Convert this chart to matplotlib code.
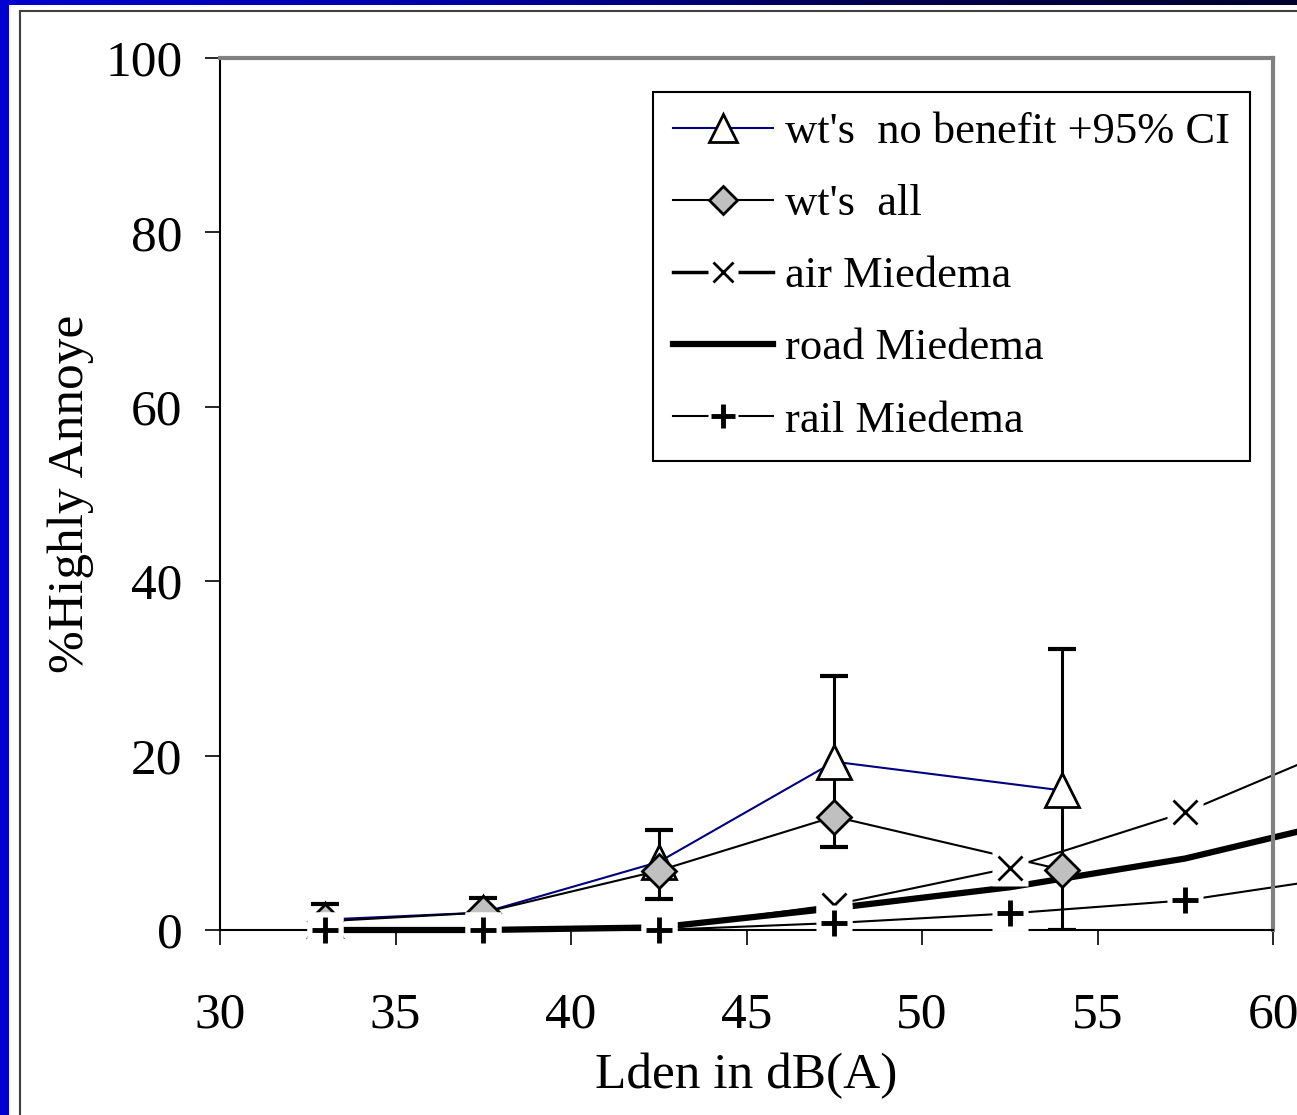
import matplotlib
matplotlib.use("Agg")
import matplotlib.pyplot as plt
import numpy as np
from matplotlib.lines import Line2D
from matplotlib.patches import Rectangle
from matplotlib.legend_handler import HandlerTuple

plt.rcParams["font.family"] = ["Liberation Serif", "DejaVu Serif"]

# wind turbine survey points
x_wt = [33, 37.5, 42.5, 47.5, 54]
no_benefit = [1.2, 2.0, 7.8, 19.3, 16.0]
ci_upper = [3.0, 3.7, 11.5, 29.1, 32.2]
ci_lower = [0.0, 0.0, 3.6, 9.5, 0.0]
wt_all = [1.0, 2.0, 6.8, 13.0, 6.9]

# Miedema curves (continue past the right edge of the plot area)
x_mie = [33, 37.5, 42.5, 47.5, 52.5, 57.5, 62.5]
air = [0.0, 0.0, 0.2, 2.9, 7.1, 13.5, 22.0]
road = [0.0, 0.0, 0.3, 2.5, 4.9, 8.2, 13.0]
rail = [0.0, 0.0, 0.0, 0.8, 1.9, 3.4, 6.4]

x_ticks = [30, 35, 40, 45, 50, 55, 60]
y_ticks = [0, 20, 40, 60, 80, 100]

W, H = 1297, 1115
fig = plt.figure(figsize=(W / 100, H / 100), dpi=100)

# slide background: blue gradient with white panel
bg = fig.add_axes([0, 0, 1, 1], zorder=-10)
grad = np.linspace(0, 1, 256)[None, :]
cmap = matplotlib.colors.LinearSegmentedColormap.from_list(
    "slide", ["#0000d0", "#0000a8", "#000050", "#000030"])
bg.imshow(grad, aspect="auto", cmap=cmap, extent=[0, W, 0, H])
bg.add_patch(Rectangle((9, 0), W - 9, H - 5, facecolor="white", edgecolor="none"))
bg.plot([20, 20], [0, H - 11], color="#404040", lw=1.5)
bg.plot([20, W], [H - 11, H - 11], color="#404040", lw=1.5)
bg.set_xlim(0, W)
bg.set_ylim(0, H)
bg.axis("off")

ax = fig.add_axes([220 / W, 1 - 930 / H, (1273 - 220) / W, (930 - 58) / H])
ax.set_facecolor("white")

# lines
ax.plot(x_wt, no_benefit, color="#000080", lw=1.5, zorder=2)
ax.plot(x_wt, wt_all, color="black", lw=1.5, zorder=2)
ax.plot(x_mie, air, color="black", lw=1.5, zorder=2, clip_on=False)
ax.plot(x_mie, road, color="black", lw=4.5, zorder=2, clip_on=False)
ax.plot(x_mie, rail, color="black", lw=1.5, zorder=2, clip_on=False)

# 95% CI error bars
yerr = [np.array(no_benefit) - np.array(ci_lower), np.array(ci_upper) - np.array(no_benefit)]
ax.errorbar(x_wt, no_benefit, yerr=yerr, fmt="none", ecolor="black",
            elinewidth=2.2, capsize=10, capthick=3, zorder=2.5)

# markers
ax.plot(x_wt, no_benefit, ls="none", marker="^", ms=24, mfc="white",
        mec="black", mew=2, zorder=3, clip_on=False)
ax.plot(x_wt, wt_all, ls="none", marker="D", ms=17, mfc="#c0c0c0",
        mec="black", mew=2, zorder=3, clip_on=False)

# x and + markers sit on white boxes, as in the spreadsheet chart
vis = [i for i, v in enumerate(x_mie) if v <= 60]
xv = [x_mie[i] for i in vis]
ax.plot(xv, [air[i] for i in vis], ls="none", marker="s", ms=26,
        mfc="white", mec="none", zorder=3.5, clip_on=False)
ax.plot(xv, [air[i] for i in vis], ls="none", marker="x", ms=17,
        mec="black", mew=2, zorder=3.6, clip_on=False)
ax.plot(xv, [rail[i] for i in vis], ls="none", marker="s", ms=26,
        mfc="white", mec="none", zorder=3.7, clip_on=False)
ax.plot(xv, [rail[i] for i in vis], ls="none", marker="+", ms=19,
        mec="black", mew=3.5, zorder=3.8, clip_on=False)

ax.set_xlim(30, 60)
ax.set_ylim(0, 100)
ax.set_xticks(x_ticks)
ax.set_yticks(y_ticks)
ax.tick_params(axis="both", direction="out", length=11, width=1.2,
               labelsize=37, colors="black")
ax.tick_params(axis="x", pad=34)
ax.tick_params(axis="y", pad=16)

for s in ("left", "bottom"):
    ax.spines[s].set_color("black")
    ax.spines[s].set_linewidth(1.5)
for s in ("top", "right"):
    ax.spines[s].set_color("#808080")
    ax.spines[s].set_linewidth(3)

ax.set_xlabel("Lden in dB(A)", fontsize=37, labelpad=10)
ax.set_ylabel("%Highly Annoye", fontsize=37, labelpad=8)

# legend
h_nb = Line2D([], [], color="#000080", lw=1.5, marker="^", ms=20,
              mfc="white", mec="black", mew=2)
h_all = Line2D([], [], color="black", lw=1.5, marker="D", ms=14,
               mfc="#c0c0c0", mec="black", mew=2)
h_air = (Line2D([], [], color="black", lw=2.5),
         Line2D([], [], ls="none", marker="s", ms=22, mfc="white", mec="none"),
         Line2D([], [], ls="none", marker="x", ms=15, mec="black", mew=2))
h_road = Line2D([], [], color="black", lw=4.5)
h_rail = (Line2D([], [], color="black", lw=1.5),
          Line2D([], [], ls="none", marker="s", ms=22, mfc="white", mec="none"),
          Line2D([], [], ls="none", marker="+", ms=17, mec="black", mew=3.5))

leg = ax.legend([h_nb, h_all, h_air, h_road, h_rail],
                ["wt's  no benefit +95% CI", "wt's  all", "air Miedema",
                 "road Miedema", "rail Miedema"],
                handler_map={tuple: HandlerTuple(ndivide=1)},
                loc="upper right", bbox_to_anchor=(0.978, 0.961),
                borderaxespad=0, fontsize=32, frameon=True, fancybox=False,
                edgecolor="black", framealpha=1, handlelength=2.25,
                handletextpad=0.27, labelspacing=0.72, borderpad=0.45)
leg.get_frame().set_linewidth(1.5)
leg.set_zorder(10)

fig.savefig("out.png", dpi=100)
